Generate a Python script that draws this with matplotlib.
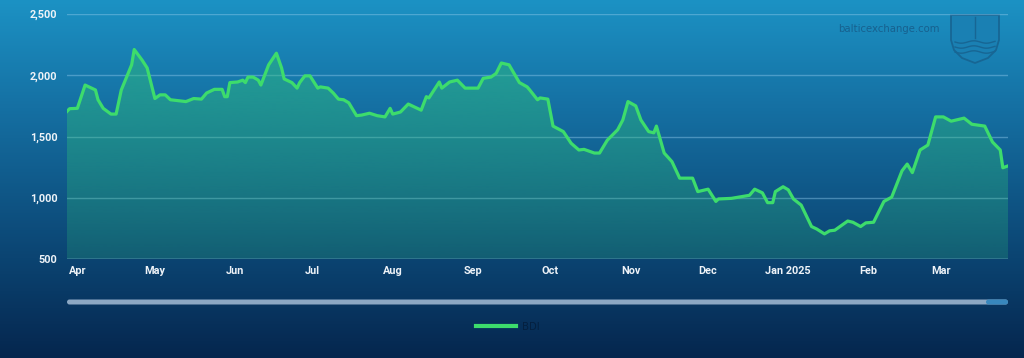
import matplotlib
matplotlib.use("Agg")
import matplotlib.pyplot as plt
import matplotlib.dates as mdates
import numpy as np
from matplotlib.patches import PathPatch, FancyBboxPatch, Polygon
from matplotlib.path import Path
from matplotlib.colors import to_rgb

# ---------------- data ----------------
dates = [
    "2024-03-28", "2024-03-29", "2024-04-01", "2024-04-04", "2024-04-08", "2024-04-09",
    "2024-04-11", "2024-04-14", "2024-04-16", "2024-04-18", "2024-04-22", "2024-04-23",
    "2024-04-26", "2024-04-28", "2024-05-01", "2024-05-03", "2024-05-05", "2024-05-07",
    "2024-05-13", "2024-05-16", "2024-05-19", "2024-05-21", "2024-05-24", "2024-05-27",
    "2024-05-28", "2024-05-29", "2024-05-30", "2024-06-02", "2024-06-04", "2024-06-05",
    "2024-06-06", "2024-06-08", "2024-06-10", "2024-06-11", "2024-06-13", "2024-06-14",
    "2024-06-17", "2024-06-19", "2024-06-20", "2024-06-23", "2024-06-25", "2024-06-26",
    "2024-06-28", "2024-06-30", "2024-07-03", "2024-07-04", "2024-07-07", "2024-07-09",
    "2024-07-11", "2024-07-13", "2024-07-15", "2024-07-18", "2024-07-20", "2024-07-23",
    "2024-07-26", "2024-07-29", "2024-07-31", "2024-08-01", "2024-08-04", "2024-08-07",
    "2024-08-12", "2024-08-14", "2024-08-15", "2024-08-19", "2024-08-20", "2024-08-23",
    "2024-08-26", "2024-08-29", "2024-09-03", "2024-09-05", "2024-09-08", "2024-09-10",
    "2024-09-12", "2024-09-15", "2024-09-19", "2024-09-22", "2024-09-23", "2024-09-26",
    "2024-09-27", "2024-09-30", "2024-10-02", "2024-10-06", "2024-10-09", "2024-10-12",
    "2024-10-14", "2024-10-18", "2024-10-20", "2024-10-23", "2024-10-27", "2024-10-29",
    "2024-10-31", "2024-11-03", "2024-11-05", "2024-11-08", "2024-11-10", "2024-11-11",
    "2024-11-14", "2024-11-17", "2024-11-20", "2024-11-25", "2024-11-27", "2024-12-01",
    "2024-12-04", "2024-12-05", "2024-12-10", "2024-12-17", "2024-12-19", "2024-12-22",
    "2024-12-24", "2024-12-26", "2024-12-27", "2024-12-30", "2025-01-01", "2025-01-03",
    "2025-01-06", "2025-01-10", "2025-01-12", "2025-01-15", "2025-01-17", "2025-01-19",
    "2025-01-24", "2025-01-26", "2025-01-29", "2025-01-31", "2025-02-03", "2025-02-07",
    "2025-02-10", "2025-02-14", "2025-02-16", "2025-02-18", "2025-02-21", "2025-02-24",
    "2025-02-27", "2025-03-02", "2025-03-05", "2025-03-10", "2025-03-13", "2025-03-18",
    "2025-03-21", "2025-03-24", "2025-03-25", "2025-03-27",
]
bdi = [
    1705, 1727, 1730, 1920, 1880, 1800,
    1730, 1683, 1683, 1880, 2085, 2210,
    2125, 2060, 1810, 1840, 1840, 1800,
    1785, 1810, 1805, 1855, 1885, 1885,
    1825, 1825, 1940, 1945, 1960, 1940,
    1985, 1985, 1960, 1920, 2030, 2085,
    2180, 2060, 1970, 1940, 1895, 1940,
    1995, 1995, 1895, 1905, 1895, 1855,
    1805, 1800, 1775, 1670, 1675, 1690,
    1670, 1660, 1730, 1683, 1700, 1765,
    1715, 1825, 1815, 1945, 1895, 1945,
    1960, 1895, 1895, 1975, 1985, 2015,
    2100, 2085, 1940, 1905, 1880, 1800,
    1815, 1805, 1585, 1540, 1445, 1390,
    1395, 1365, 1365, 1470, 1555, 1635,
    1785, 1750, 1635, 1540, 1530, 1585,
    1365, 1295, 1160, 1160, 1050, 1070,
    970, 990, 995, 1020, 1070, 1040,
    960, 960, 1050, 1090, 1065, 990,
    940, 765, 745, 705, 730, 735,
    810, 800, 765, 795, 800, 970,
    1005, 1220, 1275, 1205, 1390, 1430,
    1660, 1660, 1625, 1650, 1600, 1585,
    1455, 1390, 1245, 1260,
]
month_ticks = ["2024-04-01", "2024-05-01", "2024-06-01", "2024-07-01", "2024-08-01",
               "2024-09-01", "2024-10-01", "2024-11-01", "2024-12-01", "2025-01-01",
               "2025-02-01", "2025-03-01"]
month_labels = ["Apr", "May", "Jun", "Jul", "Aug", "Sep", "Oct", "Nov", "Dec",
                "Jan 2025", "Feb", "Mar"]
y_ticks = [500, 1000, 1500, 2000, 2500]
series_name = "BDI"

W, H = 1024, 358
fig = plt.figure(figsize=(W / 100, H / 100), dpi=100)

# ---------------- background gradient ----------------
bg = fig.add_axes([0, 0, 1, 1], zorder=-10)
stops = [(0.0, (28, 146, 196)), (0.30, (21, 112, 163)), (0.72, (11, 68, 114)), (1.0, (5, 38, 78))]
t = np.linspace(0, 1, 400)
cols = np.zeros((400, 1, 3))
for c in range(3):
    cols[:, 0, c] = np.interp(t, [s[0] for s in stops], [s[1][c] / 255 for s in stops])
bg.imshow(cols, aspect="auto", extent=[0, W, H, 0], interpolation="bicubic")
bg.set_xlim(0, W)
bg.set_ylim(H, 0)
bg.axis("off")

# scrollbar
bg.add_patch(FancyBboxPatch((67, 299.5), 941, 5, boxstyle="round,pad=0,rounding_size=2.5",
                            facecolor=(0.55, 0.66, 0.77), edgecolor="none"))
bg.add_patch(FancyBboxPatch((986, 299.5), 22, 5, boxstyle="round,pad=0,rounding_size=2.5",
                            facecolor=(0.22, 0.53, 0.74), edgecolor="none"))

# watermark
wm = (0.09, 0.38, 0.56)
bg.text(940, 29.5, "balticexchange.com", ha="right", va="center", fontsize=7.3,
        color=wm, family="DejaVu Sans")
shield = [(951, 15), (999, 15), (999, 40), (996, 50), (988, 58), (975, 63),
          (962, 58), (954, 50), (951, 40)]
bg.add_patch(Polygon(shield, closed=True, facecolor=(0.10, 0.50, 0.70), edgecolor=(0.09, 0.40, 0.58),
                     lw=1.3))
for yy in (42, 47, 52):
    xs = np.linspace(955, 995, 30)
    bg.plot(xs, yy + 1.2 * np.sin((xs - 955) / 4), color=(0.09, 0.40, 0.58), lw=1.0)
bg.plot([975, 975], [17, 38], color=(0.09, 0.40, 0.58), lw=1.0)

# ---------------- main axes ----------------
ax = fig.add_axes([67 / W, 1 - 259 / H, 941 / W, 245 / H])
ax.patch.set_alpha(0)
x = mdates.datestr2num(dates)
y = np.array(bdi, dtype=float)
ax.set_xlim(x[0], x[-1])
ax.set_ylim(500, 2500)

# gradient area fill (clipped to the area under the series)
verts = np.vstack([np.column_stack([x, y]), [[x[-1], 500], [x[0], 500], [x[0], y[0]]]])
clip = PathPatch(Path(verts), facecolor="none", edgecolor="none")
ax.add_patch(clip)
fill_rgb = np.array(to_rgb("#2fbf7a"))
tt = np.linspace(0, 1, 256)
grad = np.zeros((256, 1, 4))
grad[:, 0, :3] = fill_rgb
grad[:, 0, 3] = 0.50 - 0.28 * tt
im = ax.imshow(grad, aspect="auto", extent=[x[0], x[-1], 500, 2210], origin="upper",
               zorder=1, interpolation="bicubic")
im.set_clip_path(clip)
ax.set_xlim(x[0], x[-1])
ax.set_ylim(500, 2500)

ax.plot(x, y, color="#3ddc6c", lw=2.3, solid_joinstyle="round", zorder=3, label=series_name)

# grid
ax.set_yticks(y_ticks)
ax.yaxis.grid(True, color=(0.55, 0.78, 0.92), alpha=0.45, lw=1.0)
ax.axhline(500, color=(0.65, 0.82, 0.95), lw=1.0, alpha=0.75, zorder=2)
ax.set_axisbelow(True)
for s in ax.spines.values():
    s.set_visible(False)

ax.set_yticklabels([f"{v:,}" for v in y_ticks])
ax.set_xticks(mdates.datestr2num(month_ticks))
ax.set_xticklabels(month_labels)
ax.tick_params(length=0, colors="#eef3f8", labelsize=7.8)
ax.tick_params(axis="y", pad=7)
ax.tick_params(axis="x", pad=5)
for lab in ax.get_xticklabels() + ax.get_yticklabels():
    lab.set_family("Roboto")
    lab.set_fontweight("bold")

leg = fig.legend(loc="center", bbox_to_anchor=(508 / W, 1 - 327 / H), frameon=False,
                 fontsize=7.3, handlelength=3.9, handletextpad=0.6, labelcolor="#04203f")
for h in leg.legend_handles:
    h.set_linewidth(3)

fig.savefig("out.png", dpi=100)
